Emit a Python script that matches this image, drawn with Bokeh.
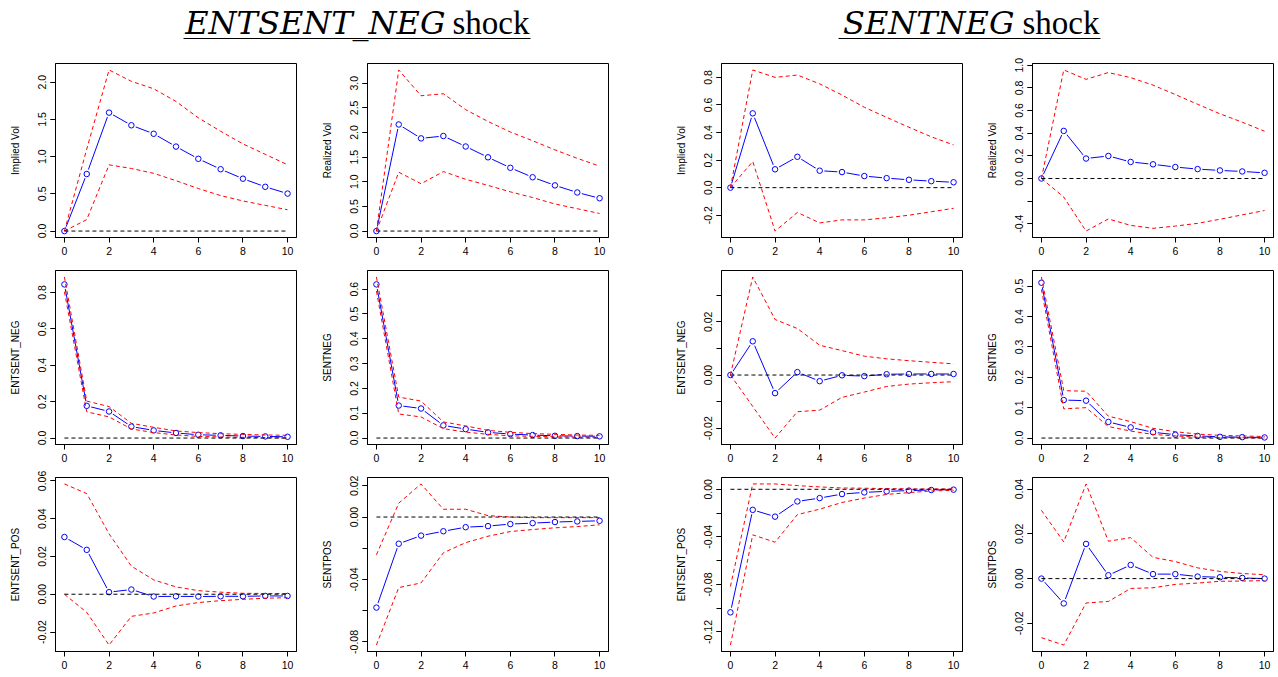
from bokeh.plotting import figure
from bokeh.layouts import column, row
from bokeh.models import FixedTicker, Range1d, PrintfTickFormatter
from bokeh.embed import file_html
from bokeh.resources import INLINE
from bokeh.core.properties import value

horizon = [0, 1, 2, 3, 4, 5, 6, 7, 8, 9, 10]
zero_ref = [0.0] * 11
x_ticks = [0, 2, 4, 6, 8, 10]

# ---------------- ENTSENT_NEG shock ----------------
ent_iv_mid = [0.0, 0.766, 1.590, 1.420, 1.306, 1.134, 0.970, 0.830, 0.703, 0.594, 0.503]
ent_iv_lo = [0.0, 0.154, 0.889, 0.840, 0.775, 0.676, 0.571, 0.476, 0.404, 0.345, 0.286]
ent_iv_hi = [0.0, 1.100, 2.163, 2.010, 1.910, 1.740, 1.520, 1.340, 1.170, 1.030, 0.890]

ent_rv_mid = [0.0, 2.163, 1.881, 1.929, 1.716, 1.497, 1.284, 1.092, 0.927, 0.783, 0.666]
ent_rv_lo = [0.0, 1.194, 0.961, 1.208, 1.050, 0.927, 0.796, 0.680, 0.549, 0.453, 0.357]
ent_rv_hi = [0.0, 3.270, 2.746, 2.787, 2.464, 2.224, 2.011, 1.833, 1.648, 1.476, 1.318]

ent_en_mid = [0.844, 0.177, 0.146, 0.063, 0.042, 0.028, 0.018, 0.015, 0.011, 0.009, 0.007]
ent_en_lo = [0.804, 0.144, 0.116, 0.050, 0.030, 0.017, 0.009, 0.006, 0.004, 0.002, 0.001]
ent_en_hi = [0.885, 0.203, 0.173, 0.081, 0.059, 0.039, 0.030, 0.024, 0.020, 0.017, 0.015]

ent_sn_mid = [0.619, 0.131, 0.119, 0.051, 0.036, 0.023, 0.016, 0.012, 0.009, 0.008, 0.007]
ent_sn_lo = [0.592, 0.097, 0.085, 0.038, 0.024, 0.015, 0.009, 0.007, 0.005, 0.004, 0.003]
ent_sn_hi = [0.649, 0.165, 0.149, 0.065, 0.049, 0.031, 0.023, 0.018, 0.015, 0.012, 0.011]

ent_ep_mid = [0.0303, 0.0235, 0.0011, 0.0025, -0.0012, -0.0011, -0.0012, -0.0011, -0.0011, -0.0009, -0.0009]
ent_ep_lo = [0.0, -0.0096, -0.0269, -0.0117, -0.0099, -0.0062, -0.0044, -0.0034, -0.0027, -0.0021, -0.0018]
ent_ep_hi = [0.0584, 0.0533, 0.0320, 0.0149, 0.0076, 0.0039, 0.0019, 0.0011, 0.0005, 0.0004, 0.0004]

ent_sp_mid = [-0.0580, -0.0171, -0.0119, -0.0091, -0.0065, -0.0058, -0.0045, -0.0039, -0.0032, -0.0028, -0.0024]
ent_sp_lo = [-0.0820, -0.0452, -0.0422, -0.0229, -0.0164, -0.0123, -0.0093, -0.0080, -0.0069, -0.0061, -0.0050]
ent_sp_hi = [-0.0242, 0.0089, 0.0212, 0.0050, 0.0050, 0.0009, 0.0000, -0.0004, -0.0004, -0.0004, -0.0004]

# ---------------- SENTNEG shock ----------------
sn_iv_mid = [0.0, 0.539, 0.133, 0.224, 0.123, 0.113, 0.084, 0.069, 0.057, 0.047, 0.039]
sn_iv_lo = [0.0, 0.190, -0.315, -0.180, -0.256, -0.234, -0.234, -0.219, -0.200, -0.175, -0.150]
sn_iv_hi = [0.0, 0.854, 0.800, 0.817, 0.753, 0.672, 0.583, 0.510, 0.438, 0.369, 0.310]

sn_rv_mid = [0.0, 0.420, 0.176, 0.199, 0.146, 0.125, 0.101, 0.083, 0.071, 0.062, 0.050]
sn_rv_lo = [0.0, -0.164, -0.464, -0.357, -0.414, -0.440, -0.420, -0.396, -0.360, -0.321, -0.283]
sn_rv_hi = [0.0, 0.958, 0.875, 0.935, 0.890, 0.824, 0.741, 0.655, 0.571, 0.497, 0.417]

sn_en_mid = [0.0, 0.0127, -0.0068, 0.0011, -0.0023, -0.0001, -0.0004, 0.0003, 0.0004, 0.0004, 0.0004]
sn_en_lo = [0.0, -0.0118, -0.0237, -0.0138, -0.0132, -0.0084, -0.0064, -0.0043, -0.0034, -0.0029, -0.0025]
sn_en_hi = [0.0, 0.0369, 0.0209, 0.0175, 0.0112, 0.0092, 0.0071, 0.0061, 0.0054, 0.0048, 0.0042]

sn_sn_mid = [0.511, 0.125, 0.123, 0.053, 0.035, 0.019, 0.011, 0.007, 0.004, 0.003, 0.002]
sn_sn_lo = [0.489, 0.096, 0.100, 0.038, 0.023, 0.012, 0.007, 0.003, 0.002, 0.001, 0.0005]
sn_sn_hi = [0.530, 0.156, 0.154, 0.072, 0.054, 0.032, 0.021, 0.013, 0.009, 0.007, 0.005]

sn_ep_mid = [-0.1035, -0.0173, -0.0230, -0.0102, -0.0074, -0.0040, -0.0026, -0.0017, -0.0011, -0.0006, -0.0003]
sn_ep_lo = [-0.1310, -0.0383, -0.0445, -0.0213, -0.0167, -0.0111, -0.0074, -0.0043, -0.0028, -0.0014, -0.0009]
sn_ep_hi = [-0.0817, 0.0045, 0.0045, 0.0031, 0.0020, 0.0011, 0.0009, 0.0006, 0.0003, 0.0003, 0.0003]

sn_sp_mid = [0.0, -0.0111, 0.0155, 0.0015, 0.0061, 0.0020, 0.0020, 0.0009, 0.0006, 0.0003, 0.0]
sn_sp_lo = [-0.0264, -0.0297, -0.0109, -0.0102, -0.0044, -0.0041, -0.0026, -0.0020, -0.0012, -0.0011, -0.0009]
sn_sp_hi = [0.0305, 0.0164, 0.0423, 0.0167, 0.0183, 0.0095, 0.0076, 0.0048, 0.0032, 0.0023, 0.0017]

# y ticks: labelled ticks and all tick marks
yt_ent_iv = [0.0, 0.5, 1.0, 1.5, 2.0]
yt_ent_rv = [0.0, 0.5, 1.0, 1.5, 2.0, 2.5, 3.0]
yt_ent_en = [0.0, 0.2, 0.4, 0.6, 0.8]
yt_ent_sn = [0.0, 0.1, 0.2, 0.3, 0.4, 0.5, 0.6]
yt_ent_ep = [-0.02, 0.0, 0.02, 0.04, 0.06]
yt_ent_sp = [-0.08, -0.04, 0.0, 0.02]
yt_ent_sp_all = [-0.08, -0.06, -0.04, -0.02, 0.0, 0.02]
yt_sn_iv = [-0.2, 0.0, 0.2, 0.4, 0.6, 0.8]
yt_sn_rv = [-0.4, 0.0, 0.2, 0.4, 0.6, 0.8, 1.0]
yt_sn_rv_all = [-0.4, -0.2, 0.0, 0.2, 0.4, 0.6, 0.8, 1.0]
yt_sn_en = [-0.02, 0.0, 0.02]
yt_sn_en_all = [-0.02, -0.01, 0.0, 0.01, 0.02, 0.03]
yt_sn_sn = [0.0, 0.1, 0.2, 0.3, 0.4, 0.5]
yt_sn_ep = [-0.12, -0.08, -0.04, 0.0]
yt_sn_ep_all = [-0.12, -0.10, -0.08, -0.06, -0.04, -0.02, 0.0]
yt_sn_sp = [-0.02, 0.0, 0.02, 0.04]

FONT = "Liberation Sans"
FRAME_H = 174
BORDER_TOP = 9
BORDER_BOTTOM = 24
COLS = [(55, 241, 19), (52, 241, 61), (52, 241, 18), (52, 241, 2)]


def panel(col, mid, lo, hi, ylabel, ticks, all_ticks, fmt):
    bl, fw, br = COLS[col]
    vals = mid + lo + hi + zero_ref
    lo_v, hi_v = min(vals), max(vals)
    pad = 0.04 * (hi_v - lo_v)
    p = figure(frame_width=fw, frame_height=FRAME_H,
               x_range=Range1d(-0.4, 10.4), y_range=Range1d(lo_v - pad, hi_v + pad),
               output_backend="svg", toolbar_location=None,
               min_border_left=bl, min_border_right=br,
               min_border_top=BORDER_TOP, min_border_bottom=BORDER_BOTTOM)
    p.grid.visible = False
    p.outline_line_color = "black"
    p.outline_line_alpha = 1.0
    p.outline_line_width = 1
    p.background_fill_color = "white"
    p.border_fill_color = "white"

    # impulse response with gaps around the markers (R type "b")
    p.line(horizon, mid, line_color="blue", line_width=1)
    p.scatter(horizon, mid, marker="circle", size=9.5, fill_color="white",
              line_color=None)
    p.scatter(horizon, mid, marker="circle", size=5.5, fill_color=None,
              line_color="blue", line_width=1)
    # bootstrap bands
    p.line(horizon, lo, line_color="red", line_width=1, line_dash="4 3")
    p.line(horizon, hi, line_color="red", line_width=1, line_dash="4 3")
    # zero reference
    p.line(horizon, zero_ref, line_color="black", line_width=1, line_dash="4 3")

    xa = p.xaxis[0]
    xa.ticker = FixedTicker(ticks=x_ticks)
    ya = p.yaxis[0]
    ya.ticker = FixedTicker(ticks=ticks, minor_ticks=all_ticks)
    ya.formatter = PrintfTickFormatter(format=fmt)
    ya.major_label_orientation = "vertical"
    ya.axis_label = ylabel
    ya.axis_label_standoff = 15
    for ax in (xa, ya):
        ax.axis_line_color = "black"
        ax.major_tick_line_color = "black"
        ax.major_tick_out = 5
        ax.major_tick_in = 0
        ax.minor_tick_line_color = "black"
        ax.minor_tick_out = 5
        ax.minor_tick_in = 0
        ax.major_label_text_font = FONT
        ax.major_label_text_font_size = "10.5px"
        ax.major_label_text_color = "black"
        ax.major_label_standoff = 4
        ax.axis_label_text_font = FONT
        ax.axis_label_text_font_size = "10px"
        ax.axis_label_text_font_style = "normal"
        ax.axis_label_text_color = "black"
    xa.minor_tick_line_color = None
    return p


r1 = row(
    panel(0, ent_iv_mid, ent_iv_lo, ent_iv_hi, "Implied Vol", yt_ent_iv, yt_ent_iv, "%.1f"),
    panel(1, ent_rv_mid, ent_rv_lo, ent_rv_hi, "Realized Vol", yt_ent_rv, yt_ent_rv, "%.1f"),
    panel(2, sn_iv_mid, sn_iv_lo, sn_iv_hi, "Implied Vol", yt_sn_iv, yt_sn_iv, "%.1f"),
    panel(3, sn_rv_mid, sn_rv_lo, sn_rv_hi, "Realized Vol", yt_sn_rv, yt_sn_rv_all, "%.1f"),
)
r2 = row(
    panel(0, ent_en_mid, ent_en_lo, ent_en_hi, "ENTSENT_NEG", yt_ent_en, yt_ent_en, "%.1f"),
    panel(1, ent_sn_mid, ent_sn_lo, ent_sn_hi, "SENTNEG", yt_ent_sn, yt_ent_sn, "%.1f"),
    panel(2, sn_en_mid, sn_en_lo, sn_en_hi, "ENTSENT_NEG", yt_sn_en, yt_sn_en_all, "%.2f"),
    panel(3, sn_sn_mid, sn_sn_lo, sn_sn_hi, "SENTNEG", yt_sn_sn, yt_sn_sn, "%.1f"),
)
r3 = row(
    panel(0, ent_ep_mid, ent_ep_lo, ent_ep_hi, "ENTSENT_POS", yt_ent_ep, yt_ent_ep, "%.2f"),
    panel(1, ent_sp_mid, ent_sp_lo, ent_sp_hi, "SENTPOS", yt_ent_sp, yt_ent_sp_all, "%.2f"),
    panel(2, sn_ep_mid, sn_ep_lo, sn_ep_hi, "ENTSENT_POS", yt_sn_ep, yt_sn_ep_all, "%.2f"),
    panel(3, sn_sp_mid, sn_sp_lo, sn_sp_hi, "SENTPOS", yt_sn_sp, yt_sn_sp, "%.2f"),
)

# ---------------- titles ----------------
TOTAL_W = sum(a + b + c for a, b, c in COLS)
TITLE_H = 54
t = figure(width=TOTAL_W, height=TITLE_H, x_range=Range1d(0, TOTAL_W),
           y_range=Range1d(0, TITLE_H), output_backend="svg",
           toolbar_location=None, min_border=0)
t.axis.visible = False
t.grid.visible = False
t.outline_line_color = None
t.border_fill_color = "white"

shock_names = ["ENTSENT_NEG", "SENTNEG"]
name_right = [445, 1014]
shock_left = [452, 1022]
under_x0 = [183, 838]
under_x1 = [530, 1100]
t.text(x=name_right, y=[32, 32], text=shock_names, text_align="right",
       text_baseline="alphabetic", text_font=value("DejaVu Serif"),
       text_font_style="italic", text_font_size="32px", text_color="black")
t.text(x=shock_left, y=[32, 32], text=["shock", "shock"], text_align="left",
       text_baseline="alphabetic", text_font=value("Liberation Serif"),
       text_font_size="33px", text_color="black")
t.segment(x0=under_x0, y0=[16, 16], x1=under_x1, y1=[16, 16],
          line_color="black", line_width=1.2)

layout = column(t, r1, r2, r3)
open("out.html", "w").write(file_html(layout, INLINE))
